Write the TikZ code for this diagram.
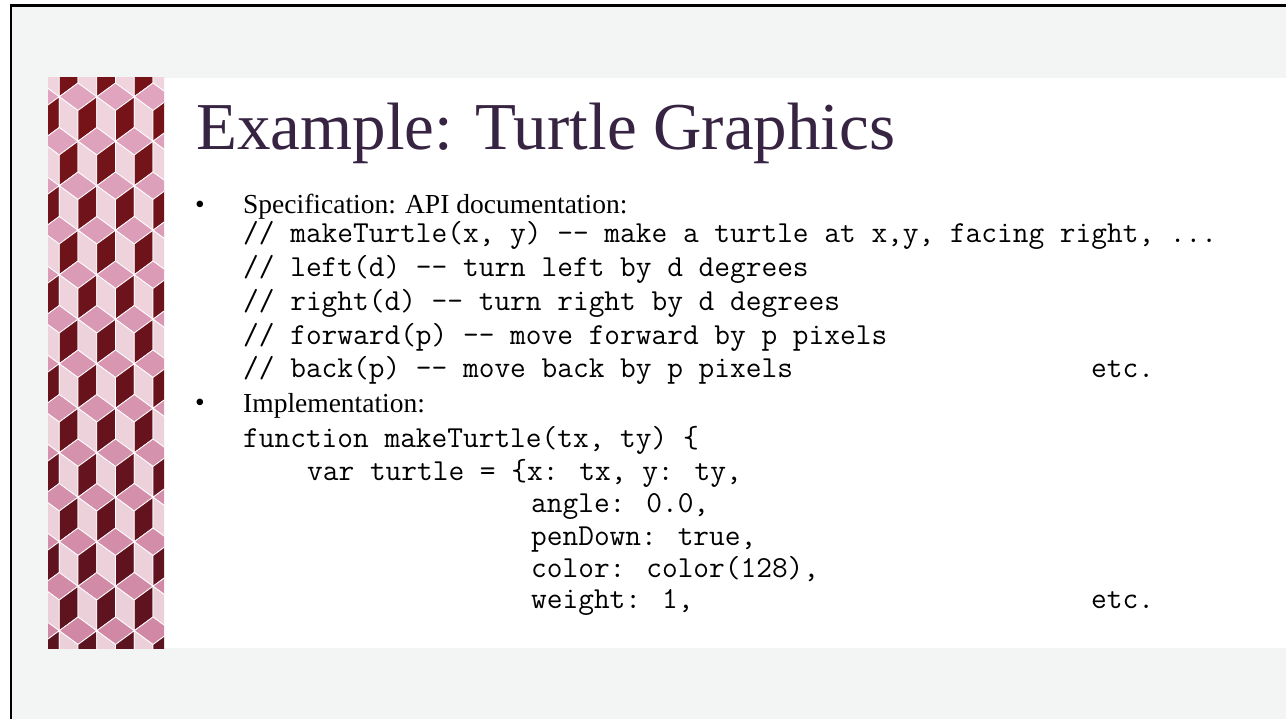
\documentclass[tikz,border=0pt]{standalone}
\usepackage{fontspec}
\newfontfamily\slidefont{Liberation Serif}
\definecolor{bggray}{HTML}{F3F5F4}
\definecolor{titlecol}{HTML}{372442}
\definecolor{darktop}{HTML}{751319}
\definecolor{darkbot}{HTML}{5C1320}
\definecolor{midtop}{HTML}{E0A4BF}
\definecolor{midbot}{HTML}{D088A4}
\definecolor{lighttop}{HTML}{EFD3DD}
\definecolor{lightbot}{HTML}{EBD0DA}
\tikzset{
  titletext/.style={font=\slidefont\fontsize{67}{72}\selectfont, text=titlecol, anchor=base west, inner sep=0pt},
  bodytext/.style={font=\slidefont\fontsize{27.5}{33}\selectfont, text=black, anchor=base west, inner sep=0pt},
  bulletmark/.style={font=\slidefont\fontsize{27.5}{33}\selectfont, text=black, anchor=base, inner sep=0pt},
  codetext/.style={font=\ttfamily\fontsize{30.5}{34}\selectfont, text=black, anchor=base west, inner sep=0pt},
  facelines/.style={draw=white, line width=0.8pt, line join=miter}
}
\begin{document}
\begin{tikzpicture}[x=1pt,y=-1pt]
\useasboundingbox (0,0) rectangle (1286,719);
% page background, slide frame and content band
\fill[white] (0,0) rectangle (1286,719);
\fill[bggray] (11.7,6.8) rectangle (1286,719);
\fill[white] (48,78) rectangle (1286,648);
\fill[black] (9.5,4.3) rectangle (1286,6.8);
\fill[black] (9.5,4.3) rectangle (11.7,719);

% stacked-cube strip, darkening towards the bottom
\begin{scope}
  \clip (48,78) rectangle (164,648);
  \foreach \r in {-1,...,13}{
    \pgfmathsetmacro\ty{83+44.5*\r}
    \pgfmathsetmacro\sh{mod(\r+2,2)*(-18.75)}
    \pgfmathtruncatemacro\pc{max(0,min(100,100*\r/12))}
    \colorlet{cdark}{darkbot!\pc!darktop}
    \colorlet{cmid}{midbot!\pc!midtop}
    \colorlet{clight}{lightbot!\pc!lighttop}
    \foreach \k in {-1,...,3}{
      \pgfmathsetmacro\cx{78+37.5*\k+\sh}
      \filldraw[facelines, fill=cmid] (\cx,\ty) -- (\cx+18.75,\ty+13.75) -- (\cx,\ty+27.5) -- (\cx-18.75,\ty+13.75) -- cycle;
      \filldraw[facelines, fill=clight] (\cx-18.75,\ty+13.75) -- (\cx,\ty+27.5) -- (\cx,\ty+58.25) -- (\cx-18.75,\ty+44.5) -- cycle;
      \filldraw[facelines, fill=cdark] (\cx,\ty+27.5) -- (\cx+18.75,\ty+13.75) -- (\cx+18.75,\ty+44.5) -- (\cx,\ty+58.25) -- cycle;
    }
  }
\end{scope}

% title
\node[titletext] (title) at (196,150) {Example: Turtle Graphics};

% specification bullet
\node[bulletmark] (b1) at (200,214) {\textbullet};
\node[bodytext] (spec) at (243,214) {Specification: API documentation:};
\node[codetext] (s1) at (243,243) {// makeTurtle(x, y) -{}- make a turtle at x,y, facing right, ...};
\node[codetext] (s2) at (243,277) {// left(d) -{}- turn left by d degrees};
\node[codetext] (s3) at (243,311) {// right(d) -{}- turn right by d degrees};
\node[codetext] (s4) at (243,345) {// forward(p) -{}- move forward by p pixels};
\node[codetext] (s5) at (243,378) {// back(p) -{}- move back by p pixels};
\node[codetext] (e1) at (1091,378) {etc.};

% implementation bullet
\node[bulletmark] (b2) at (200,412) {\textbullet};
\node[bodytext] (impl) at (243,413) {Implementation:};
\node[codetext] (c1) at (243,447) {function makeTurtle(tx, ty) \{};
\node[codetext] (c2) at (307,480) {var turtle = \{x: tx, y: ty,};
\node[codetext] (c3) at (531,512) {angle: 0.0,};
\node[codetext] (c4) at (531,545) {penDown: true,};
\node[codetext] (c5) at (531,577) {color: color(128),};
\node[codetext] (c6) at (531,608) {weight: 1,};
\node[codetext] (e2) at (1091,608) {etc.};
\end{tikzpicture}
\end{document}
